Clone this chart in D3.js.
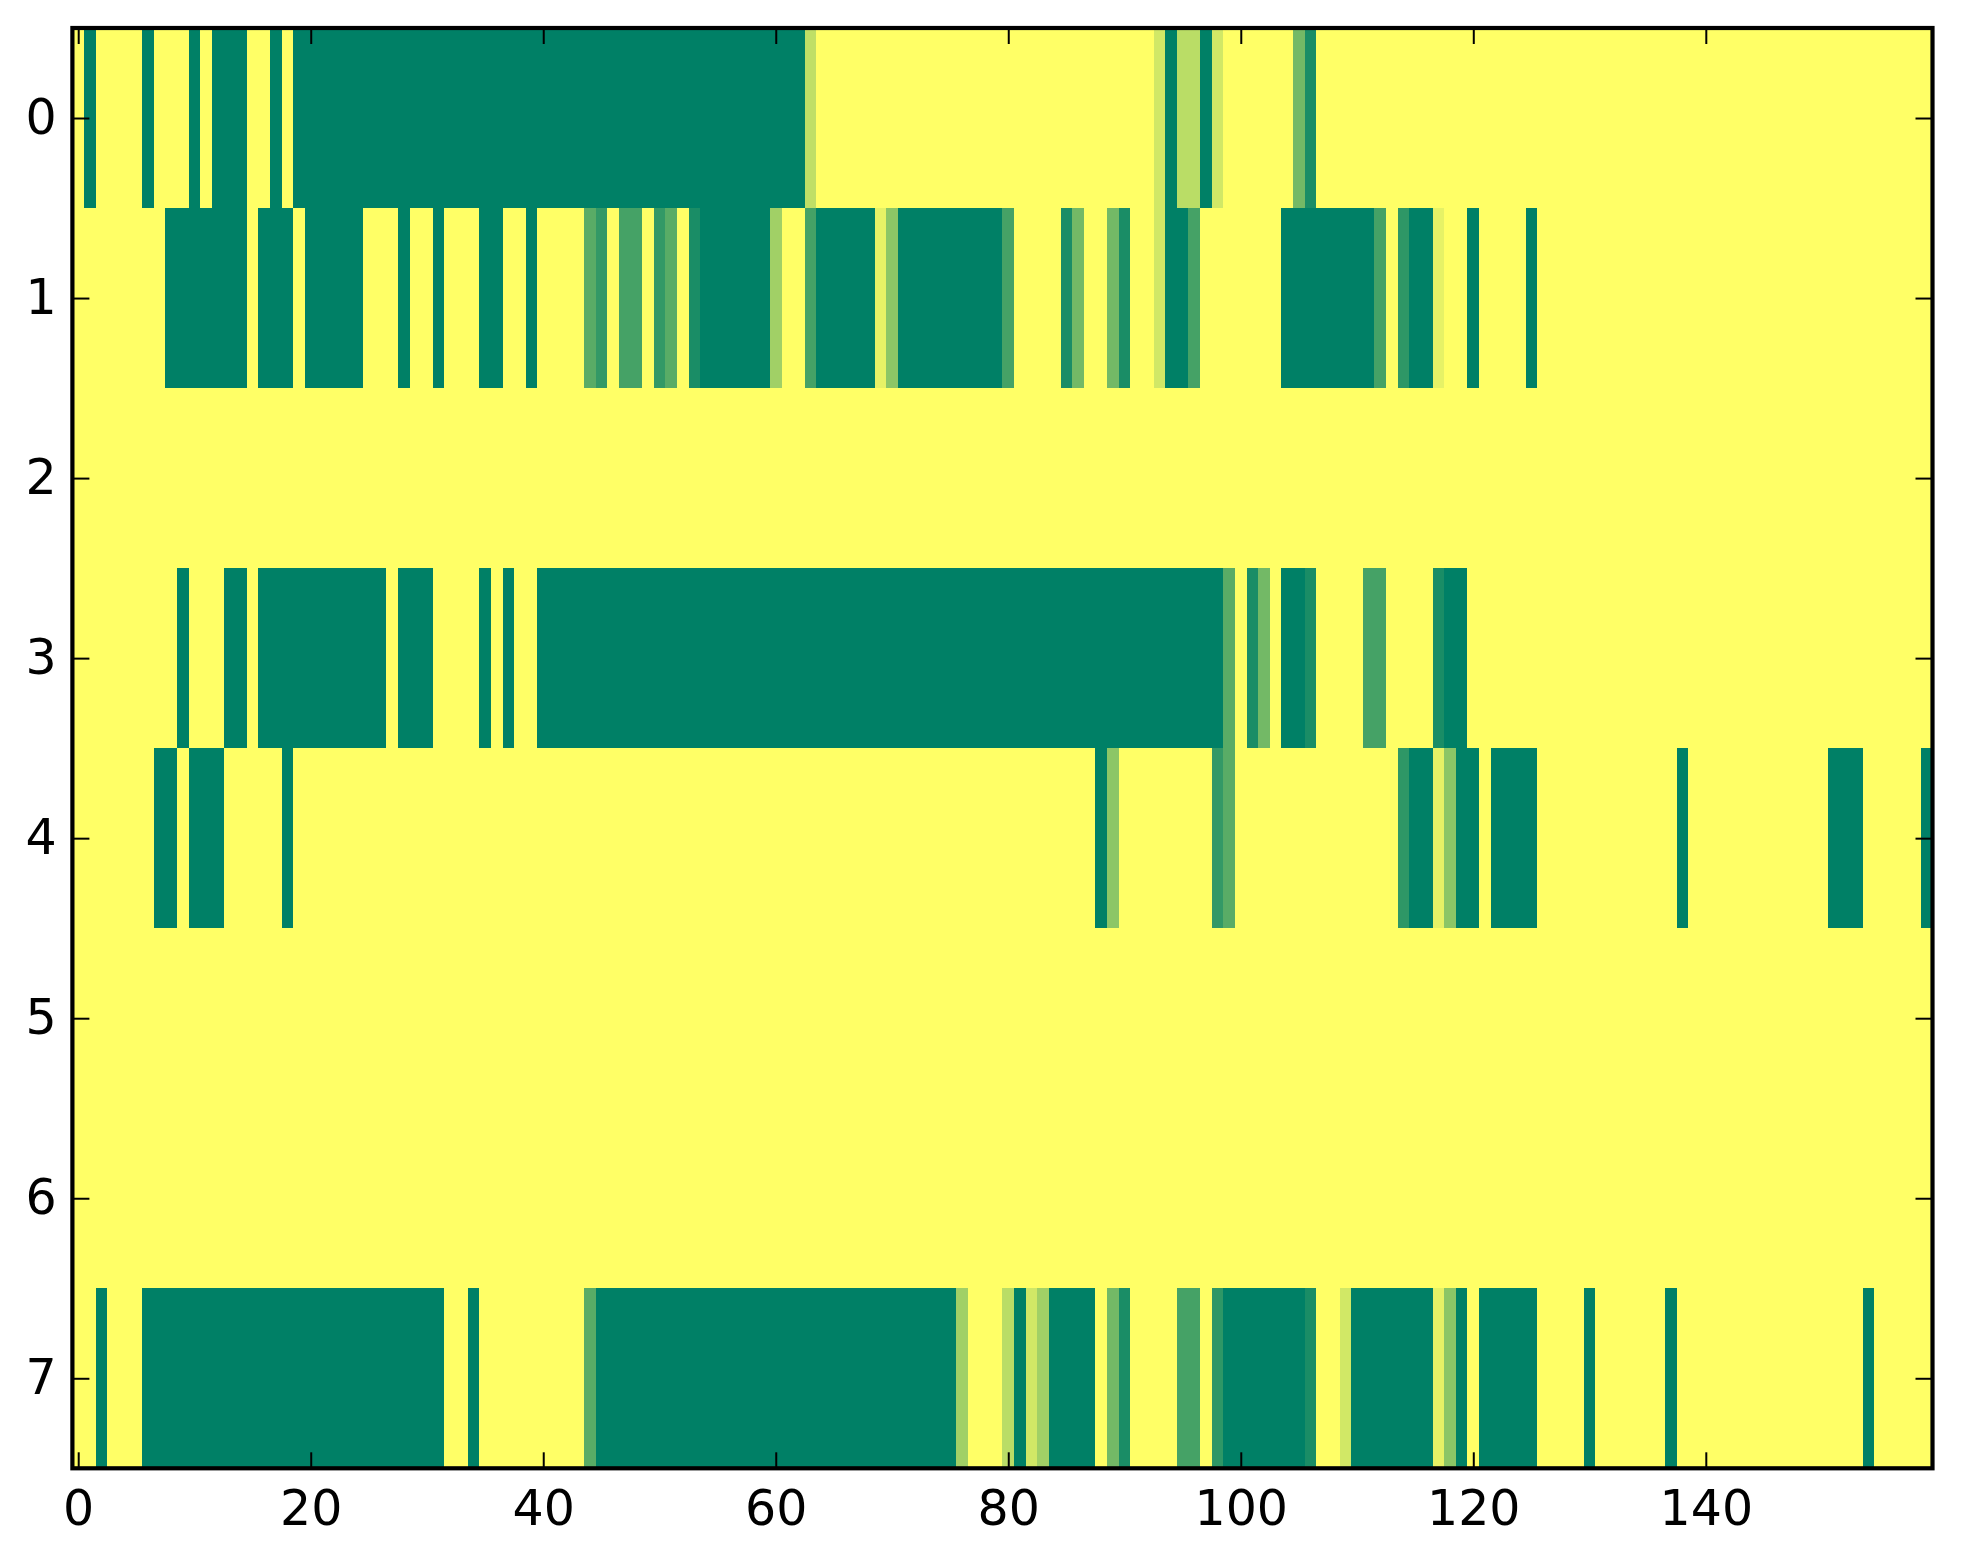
<!DOCTYPE html>
<html lang="en">
<head>
<meta charset="UTF-8">
<script src="https://cdn.jsdelivr.net/npm/d3@7"></script>
<title>Heatmap</title>
<style>
  html, body { margin: 0; padding: 0; background: #fff; }
  text { font-family: "DejaVu Sans", sans-serif; }
</style>
</head>
<body>
<script>
// values of each row (0 = dark green, 1 = yellow)
var row0 = [
  1,0,1,1,1,1,0,1,1,1, 0,1,0,0,0,1,1,0,1,0,
  0,0,0,0,0,0,0,0,0,0, 0,0,0,0,0,0,0,0,0,0,
  0,0,0,0,0,0,0,0,0,0, 0,0,0,0,0,0,0,0,0,0,
  0,0,0,0.75,1,1,1,1,1,1, 1,1,1,1,1,1,1,1,1,1,
  1,1,1,1,1,1,1,1,1,1, 1,1,1,0.82,0,0.73,0.73,0,0.82,1,
  1,1,1,1,1,0.45,0.1,1,1,1, 1,1,1,1,1,1,1,1,1,1,
  1,1,1,1,1,1,1,1,1,1, 1,1,1,1,1,1,1,1,1,1,
  1,1,1,1,1,1,1,1,1,1, 1,1,1,1,1,1,1,1,1,1
];
var row1 = [
  1,1,1,1,1,1,1,1,0,0, 0,0,0,0,0,1,0,0,0,1,
  0,0,0,0,0,1,1,1,0,1, 1,0,1,1,1,0,0,1,1,0,
  1,1,1,1,0.35,0.2,1,0.27,0.27,1, 0.2,0.35,1,0.1,0,0,0,0,0,0,
  0.63,1,1,0.27,0,0,0,0,0,0.9, 0.55,0,0,0,0,0,0,0,0,0,
  0.27,1,1,1,1,0.1,0.45,1,1,0.45, 0.1,1,1,0.82,0,0,0.27,1,1,1,
  1,1,1,1,0,0,0,0,0,0, 0,0,0.27,1,0.18,0,0,0.9,1,1,
  0,1,1,1,1,0,1,1,1,1, 1,1,1,1,1,1,1,1,1,1,
  1,1,1,1,1,1,1,1,1,1, 1,1,1,1,1,1,1,1,1,1
];
var row2 = [
  1,1,1,1,1,1,1,1,1,1, 1,1,1,1,1,1,1,1,1,1,
  1,1,1,1,1,1,1,1,1,1, 1,1,1,1,1,1,1,1,1,1,
  1,1,1,1,1,1,1,1,1,1, 1,1,1,1,1,1,1,1,1,1,
  1,1,1,1,1,1,1,1,1,1, 1,1,1,1,1,1,1,1,1,1,
  1,1,1,1,1,1,1,1,1,1, 1,1,1,1,1,1,1,1,1,1,
  1,1,1,1,1,1,1,1,1,1, 1,1,1,1,1,1,1,1,1,1,
  1,1,1,1,1,1,1,1,1,1, 1,1,1,1,1,1,1,1,1,1,
  1,1,1,1,1,1,1,1,1,1, 1,1,1,1,1,1,1,1,1,1
];
var row3 = [
  1,1,1,1,1,1,1,1,1,0, 1,1,1,0,0,1,0,0,0,0,
  0,0,0,0,0,0,0,1,0,0, 0,1,1,1,1,0,1,0,1,1,
  0,0,0,0,0,0,0,0,0,0, 0,0,0,0,0,0,0,0,0,0,
  0,0,0,0,0,0,0,0,0,0, 0,0,0,0,0,0,0,0,0,0,
  0,0,0,0,0,0,0,0,0,0, 0,0,0,0,0,0,0,0,0,0.35,
  1,0.1,0.45,1,0,0,0.1,1,1,1, 1,0.27,0.27,1,1,1,1,0.1,0,0,
  1,1,1,1,1,1,1,1,1,1, 1,1,1,1,1,1,1,1,1,1,
  1,1,1,1,1,1,1,1,1,1, 1,1,1,1,1,1,1,1,1,1
];
var row4 = [
  1,1,1,1,1,1,1,0,0,1, 0,0,0,1,1,1,1,1,0,1,
  1,1,1,1,1,1,1,1,1,1, 1,1,1,1,1,1,1,1,1,1,
  1,1,1,1,1,1,1,1,1,1, 1,1,1,1,1,1,1,1,1,1,
  1,1,1,1,1,1,1,1,1,1, 1,1,1,1,1,1,1,1,1,1,
  1,1,1,1,1,1,1,1,0,0.55, 1,1,1,1,1,1,1,1,0.2,0.35,
  1,1,1,1,1,1,1,1,1,1, 1,1,1,1,0.18,0,0,0.9,0.55,0,
  0,1,0,0,0,0,1,1,1,1, 1,1,1,1,1,1,1,1,0,1,
  1,1,1,1,1,1,1,1,1,1, 1,0,0,0,1,1,1,1,1,0
];
var row5 = [
  1,1,1,1,1,1,1,1,1,1, 1,1,1,1,1,1,1,1,1,1,
  1,1,1,1,1,1,1,1,1,1, 1,1,1,1,1,1,1,1,1,1,
  1,1,1,1,1,1,1,1,1,1, 1,1,1,1,1,1,1,1,1,1,
  1,1,1,1,1,1,1,1,1,1, 1,1,1,1,1,1,1,1,1,1,
  1,1,1,1,1,1,1,1,1,1, 1,1,1,1,1,1,1,1,1,1,
  1,1,1,1,1,1,1,1,1,1, 1,1,1,1,1,1,1,1,1,1,
  1,1,1,1,1,1,1,1,1,1, 1,1,1,1,1,1,1,1,1,1,
  1,1,1,1,1,1,1,1,1,1, 1,1,1,1,1,1,1,1,1,1
];
var row6 = [
  1,1,1,1,1,1,1,1,1,1, 1,1,1,1,1,1,1,1,1,1,
  1,1,1,1,1,1,1,1,1,1, 1,1,1,1,1,1,1,1,1,1,
  1,1,1,1,1,1,1,1,1,1, 1,1,1,1,1,1,1,1,1,1,
  1,1,1,1,1,1,1,1,1,1, 1,1,1,1,1,1,1,1,1,1,
  1,1,1,1,1,1,1,1,1,1, 1,1,1,1,1,1,1,1,1,1,
  1,1,1,1,1,1,1,1,1,1, 1,1,1,1,1,1,1,1,1,1,
  1,1,1,1,1,1,1,1,1,1, 1,1,1,1,1,1,1,1,1,1,
  1,1,1,1,1,1,1,1,1,1, 1,1,1,1,1,1,1,1,1,1
];
var row7 = [
  1,1,0,1,1,1,0,0,0,0, 0,0,0,0,0,0,0,0,0,0,
  0,0,0,0,0,0,0,0,0,0, 0,0,1,1,0,1,1,1,1,1,
  1,1,1,1,0.35,0,0,0,0,0, 0,0,0,0,0,0,0,0,0,0,
  0,0,0,0,0,0,0,0,0,0, 0,0,0,0,0,0,0.63,1,1,1,
  0.73,0,0.82,0.63,0,0,0,0,1,0.45, 0.1,1,1,1,1,0.27,0.27,1,0.18,0,
  0,0,0,0,0,0,0.1,1,1,0.82, 0,0,0,0,0,0,0,0.9,0.55,0,
  1,0,0,0,0,0,1,1,1,1, 0,1,1,1,1,1,1,0,1,1,
  1,1,1,1,1,1,1,1,1,1, 1,1,1,1,0,1,1,1,1,1
];

var rowLabels = [0, 1, 2, 3, 4, 5, 6, 7];
var xTickValues = [0, 20, 40, 60, 80, 100, 120, 140];

var matrix = [row0, row1, row2, row3, row4, row5, row6, row7];

var width = 1963,
    height = 1564;
var margin = {top: 28, right: 30.5, bottom: 95.7, left: 72.4};

var svg = d3.select("body").append("svg")
    .attr("width", width).attr("height", height);

var x = d3.scaleLinear()
    .domain([-0.5, row0.length - 0.5])
    .range([margin.left, width - margin.right]);
var y = d3.scaleLinear()
    .domain([-0.5, matrix.length - 0.5])
    .range([margin.top, height - margin.bottom]);

// matplotlib "summer": linear from (0, .5, .4) to (1, 1, .4)
var color = d3.scaleLinear().domain([0, 1]).range(["#008066", "#ffff66"]);

var cells = [];
matrix.forEach(function(row, r){
    row.forEach(function(v, c){
        cells.push({r: r, c: c, v: v});
    });
});

svg.append("g")
    .attr("shape-rendering", "crispEdges")
    .selectAll("rect").data(cells)
    .enter()
    .append("rect")
    .attr("x", function(d){ return x(d.c - 0.5); })
    .attr("y", function(d){ return y(d.r - 0.5); })
    .attr("width", function(d){ return x(d.c + 0.5) - x(d.c - 0.5) + 0.4; })
    .attr("height", function(d){ return y(d.r + 0.5) - y(d.r - 0.5) + 0.4; })
    .attr("fill", function(d){ return color(d.v); });

var plotBottom = height - margin.bottom,
    plotRight = width - margin.right;

// ticks point inward, labels only bottom / left
var axisB = svg.append("g")
    .attr("transform", "translate(0," + plotBottom + ")")
    .call(d3.axisBottom(x).tickValues(xTickValues).tickSizeInner(-16).tickSizeOuter(0).tickPadding(21.7));
var axisT = svg.append("g")
    .attr("transform", "translate(0," + margin.top + ")")
    .call(d3.axisTop(x).tickValues(xTickValues).tickSizeInner(-16).tickSizeOuter(0).tickFormat(""));
var axisL = svg.append("g")
    .attr("transform", "translate(" + margin.left + ",0)")
    .call(d3.axisLeft(y).tickValues(rowLabels).tickSizeInner(-17).tickSizeOuter(0).tickPadding(15.6));
var axisR = svg.append("g")
    .attr("transform", "translate(" + plotRight + ",0)")
    .call(d3.axisRight(y).tickValues(rowLabels).tickSizeInner(-17).tickSizeOuter(0).tickFormat(""));

[axisB, axisT, axisL, axisR].forEach(function(a){
    a.select(".domain").remove();
    a.selectAll(".tick line").attr("stroke", "#000").attr("stroke-width", 2);
    a.selectAll("text")
        .attr("fill", "#000")
        .attr("font-size", "49px")
        .attr("font-family", "'DejaVu Sans', sans-serif");
});

// frame
svg.append("rect")
    .attr("x", margin.left)
    .attr("y", margin.top)
    .attr("width", plotRight - margin.left)
    .attr("height", plotBottom - margin.top)
    .attr("fill", "none")
    .attr("stroke", "#000")
    .attr("stroke-width", 4.2);
</script>
</body>
</html>
